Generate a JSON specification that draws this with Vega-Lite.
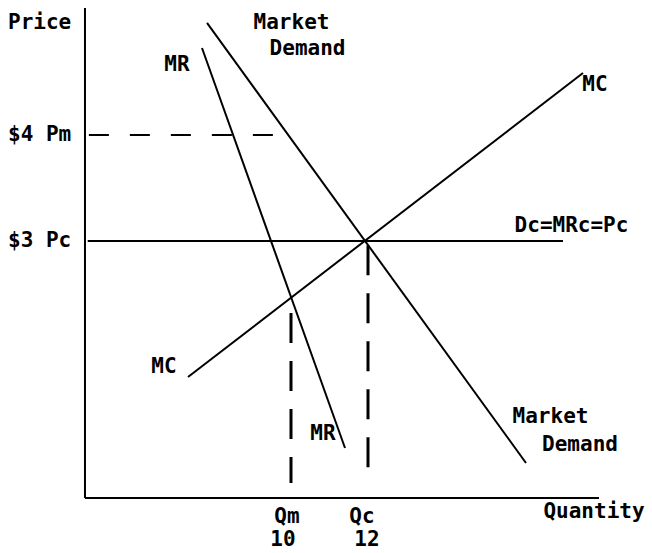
{
  "$schema": "https://vega.github.io/schema/vega-lite/v6.json",
  "width": 652,
  "height": 553,
  "padding": 0,
  "autosize": {"type": "none"},
  "background": "white",
  "config": {"view": {"stroke": null}},
  "datasets": {
    "solid": [
      {"s": "yaxis", "i": 0, "q": 4.649, "p": 5.198},
      {"s": "yaxis", "i": 1, "q": 4.649, "p": 0.5755},
      {"s": "xaxis", "i": 0, "q": 4.649, "p": 0.5755},
      {"s": "xaxis", "i": 1, "q": 18.0, "p": 0.5755},
      {"s": "Demand", "i": 0, "q": 7.818, "p": 5.057},
      {"s": "Demand", "i": 1, "q": 16.104, "p": 0.906},
      {"s": "MR", "i": 0, "q": 7.688, "p": 4.821},
      {"s": "MR", "i": 1, "q": 11.403, "p": 1.047},
      {"s": "MC", "i": 0, "q": 7.325, "p": 1.717},
      {"s": "MC", "i": 1, "q": 17.584, "p": 4.585},
      {"s": "Pc", "i": 0, "q": 4.72, "p": 3.0},
      {"s": "Pc", "i": 1, "q": 17.065, "p": 3.0}
    ],
    "dashedH": [
      {"s": "Pm", "i": 0, "q": 4.75, "p": 4.0},
      {"s": "Pm", "i": 1, "q": 9.584, "p": 4.0}
    ],
    "dashedV": [
      {"s": "Qm", "i": 0, "q": 10.0, "p": 2.321},
      {"s": "Qm", "i": 1, "q": 10.0, "p": 0.717},
      {"s": "Qc", "i": 0, "q": 12.0, "p": 2.96},
      {"s": "Qc", "i": 1, "q": 12.0, "p": 0.764}
    ],
    "labelsLeft": [
      {"t": "Price", "q": 2.649, "p": 5.061},
      {"t": "$4 Pm", "q": 2.649, "p": 4.0},
      {"t": "$3 Pc", "q": 2.649, "p": 3.0}
    ],
    "labels": [
      {"t": "MR", "q": 7.039, "p": 4.66},
      {"t": "Market", "q": 10.013, "p": 5.061},
      {"t": "Demand", "q": 10.429, "p": 4.811},
      {"t": "MC", "q": 17.896, "p": 4.476},
      {"t": "Dc=MRc=Pc", "q": 17.286, "p": 3.146},
      {"t": "MC", "q": 6.701, "p": 1.811},
      {"t": "MR", "q": 10.831, "p": 1.175},
      {"t": "Market", "q": 16.74, "p": 1.344},
      {"t": "Demand", "q": 17.506, "p": 1.08},
      {"t": "Quantity", "q": 17.87, "p": 0.439},
      {"t": "Qm", "q": 9.896, "p": 0.392},
      {"t": "10", "q": 9.792, "p": 0.175},
      {"t": "Qc", "q": 11.844, "p": 0.392},
      {"t": "12", "q": 11.974, "p": 0.175}
    ]
  },
  "encoding": {
    "x": {"field": "q", "type": "quantitative", "scale": {"domain": [2.4416, 19.3766], "nice": false, "zero": false}, "axis": null},
    "y": {"field": "p", "type": "quantitative", "scale": {"domain": [0.0566, 5.2736], "nice": false, "zero": false}, "axis": null}
  },
  "layer": [
    {
      "data": {"name": "solid"},
      "mark": {"type": "line", "color": "black", "strokeWidth": 2},
      "encoding": {"detail": {"field": "s"}, "order": {"field": "i", "type": "quantitative"}}
    },
    {
      "data": {"name": "dashedH"},
      "mark": {"type": "line", "color": "black", "strokeWidth": 2, "strokeDash": [20, 21]},
      "encoding": {"detail": {"field": "s"}, "order": {"field": "i", "type": "quantitative"}}
    },
    {
      "data": {"name": "dashedV"},
      "mark": {"type": "line", "color": "black", "strokeWidth": 3, "strokeDash": [30, 18]},
      "encoding": {"detail": {"field": "s"}, "order": {"field": "i", "type": "quantitative"}}
    },
    {
      "data": {"name": "labelsLeft"},
      "mark": {"type": "text", "align": "left", "baseline": "middle", "font": "DejaVu Sans Mono", "fontSize": 21, "fontWeight": "bold", "color": "black"},
      "encoding": {"text": {"field": "t"}}
    },
    {
      "data": {"name": "labels"},
      "mark": {"type": "text", "align": "center", "baseline": "middle", "font": "DejaVu Sans Mono", "fontSize": 21, "fontWeight": "bold", "color": "black"},
      "encoding": {"text": {"field": "t"}}
    }
  ]
}
